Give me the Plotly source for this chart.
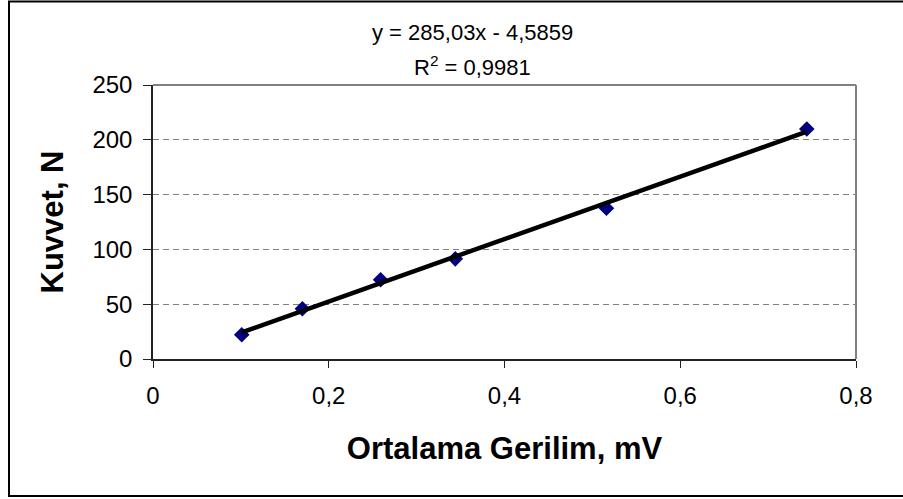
import plotly.graph_objects as go

# Data
voltage_mV = [0.101, 0.170, 0.259, 0.344, 0.516, 0.744]
force_N = [22.1, 45.8, 72.3, 91.4, 137.6, 209.9]

# Trendline (as printed on the chart)
slope = 285.03
intercept = -4.5859
eq_text = "y = 285,03x - 4,5859"
r2_text = "R<sup>2</sup> = 0,9981"

x_tickvals = [0, 0.2, 0.4, 0.6, 0.8]
x_ticktext = ["0", "0,2", "0,4", "0,6", "0,8"]
y_tickvals = [0, 50, 100, 150, 200, 250]
y_ticktext = ["0", "50", "100", "150", "200", "250"]

x_title = "Ortalama Gerilim, mV"
y_title = "Kuvvet, N"

W, H = 903, 499
L, R, T, B = 153, 47, 85, 140
PW, PH = W - L - R, H - T - B


def px_x(p):
    return (p - L) / PW


def px_y(p):
    return (H - B - p) / PH


FONT = "Liberation Sans, Arial, sans-serif"

trend_x = [min(voltage_mV), max(voltage_mV)]
trend_y = [slope * v + intercept for v in trend_x]

fig = go.Figure()
fig.add_trace(go.Scatter(
    x=voltage_mV, y=force_N, mode="markers",
    marker=dict(symbol="diamond", size=12, color="#000080"),
    showlegend=False, hoverinfo="x+y"))
fig.add_trace(go.Scatter(
    x=trend_x, y=trend_y, mode="lines",
    line=dict(color="black", width=4.5),
    showlegend=False, hoverinfo="skip"))

fig.update_layout(
    width=W, height=H,
    margin=dict(l=L, r=R, t=T, b=B, pad=0),
    paper_bgcolor="white", plot_bgcolor="white",
    font=dict(family=FONT, color="black"),
    xaxis=dict(
        range=[0, 0.8], tickvals=x_tickvals, ticktext=x_ticktext,
        showgrid=False, zeroline=False,
        showline=True, linecolor="#222222", linewidth=1.5,
        ticks="outside", ticklen=7, tickcolor="#222222", tickwidth=1,
        tickfont=dict(size=24, family=FONT, color="black"),
        ticklabelstandoff=7,
        title=dict(text="<b>" + x_title + "</b>", font=dict(size=31, family=FONT, color="black"), standoff=30),
    ),
    yaxis=dict(
        range=[0, 250], tickvals=y_tickvals, ticktext=y_ticktext,
        showgrid=True, gridcolor="#808080", gridwidth=1, griddash="6px,4px",
        zeroline=False,
        showline=True, linecolor="#222222", linewidth=1.5,
        ticks="outside", ticklen=8, tickcolor="#222222", tickwidth=1,
        tickfont=dict(size=24, family=FONT, color="black"),
        ticklabelstandoff=6,
        title=dict(text="<b>" + y_title + "</b>", font=dict(size=31, family=FONT, color="black"), standoff=20),
    ),
    annotations=[
        dict(text=eq_text, x=px_x(472), y=px_y(32), xref="paper", yref="paper",
             xanchor="center", yanchor="middle", showarrow=False,
             font=dict(size=22, family=FONT, color="black")),
        dict(text=r2_text, x=px_x(472), y=px_y(66), xref="paper", yref="paper",
             xanchor="center", yanchor="middle", showarrow=False,
             font=dict(size=22, family=FONT, color="black")),
    ],
    shapes=[
        # plot-area frame (top and right, gray)
        dict(type="line", xref="paper", yref="paper", x0=0, x1=1, y0=1, y1=1,
             line=dict(color="#808080", width=2)),
        dict(type="line", xref="paper", yref="paper", x0=1, x1=1, y0=0, y1=1,
             line=dict(color="#808080", width=2)),
        # outer chart border
        dict(type="rect", xref="paper", yref="paper",
             x0=px_x(9), x1=px_x(930), y0=px_y(496), y1=px_y(1.5),
             line=dict(color="black", width=2), fillcolor="rgba(0,0,0,0)"),
    ],
)

fig.write_html(
    "out.html",
    config={"displayModeBar": False},
    post_script="document.body.style.margin='0';document.body.style.overflow='hidden';",
)
